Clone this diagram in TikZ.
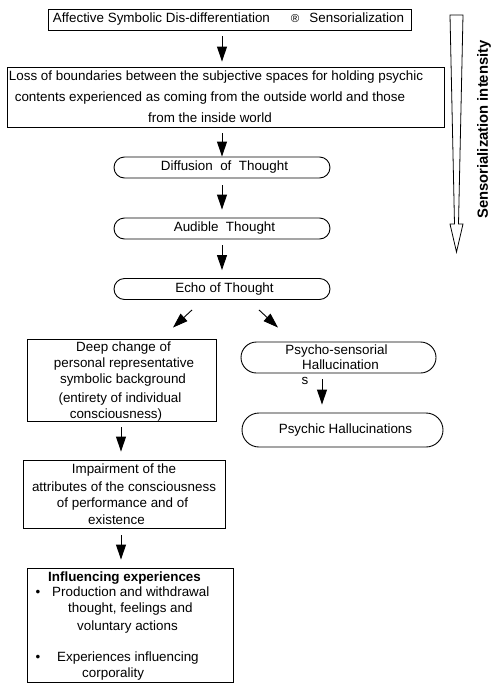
\documentclass[tikz,border=0pt]{standalone}
\usepackage{fontspec}
\setmainfont{Liberation Sans}
\usetikzlibrary{arrows.meta,shapes.misc}
\begin{document}
\begin{tikzpicture}[x=1pt,y=-1pt,
  box/.style={draw, line width=0.9pt, inner sep=0pt},
  rbox/.style={draw, rounded rectangle, line width=0.9pt, inner sep=0pt, align=center, font=\fontsize{13.4}{15}\selectfont},
  txt/.style={inner sep=0pt, align=center, font=\fontsize{13.4}{16}\selectfont},
  ltxt/.style={inner sep=0pt, anchor=base west, font=\fontsize{13.4}{16}\selectfont},
  arr/.style={line width=0.9pt, -{Triangle[length=15pt,width=10pt]}}]
\useasboundingbox (0,0) rectangle (500,683);

% top box
\node[box, minimum width=363pt, minimum height=21pt] (top) at (229.5,19.5) {};
\node[txt] (toptext) at (228.5,19.5) {Affective Symbolic Dis-differentiation\hspace{21pt}{\fontsize{11.5}{12}\selectfont ®}\hspace{10pt}Sensorialization};

% loss box
\node[box, minimum width=437pt, minimum height=60pt] (loss) at (225.5,97) {};
\node[txt, font=\fontsize{13.4}{21}\selectfont] (losstext) at (210,97) {\hspace*{12pt}Loss of boundaries between the subjective spaces for holding psychic\\contents experienced as coming from the outside world and those\\from the inside world};

% rounded chain
\node[rbox, minimum width=216pt, minimum height=21pt] (diff) at (222,167.5) {\hspace*{5pt}Diffusion\ \ of\ \ Thought};
\node[rbox, minimum width=216pt, minimum height=21pt] (aud) at (222,228.5) {\hspace*{5pt}Audible\ \ Thought};
\node[rbox, minimum width=216pt, minimum height=21pt] (echo) at (222,289) {\hspace*{5pt}Echo of Thought};

% deep box
\node[box, minimum width=189pt, minimum height=82pt] (deep) at (121.5,380) {};
\node[txt] (deeptext) at (122,381.5) {\hspace*{3pt}Deep change of\\\hspace*{4pt}personal representative\\\hspace*{2pt}symbolic background\\[3pt]\hspace*{-4pt}(entirety of individual\\\hspace*{-12pt}consciousness)};

% psycho boxes
\node[rbox, minimum width=195pt, minimum height=31pt] (psycho) at (338.5,357.5) {\hspace*{-4pt}Psycho-sensorial\\\hspace*{4pt}Hallucination};
\node[txt] (s) at (305,381) {s};
\node[rbox, minimum width=201pt, minimum height=34pt] (psychic) at (342.5,430) {\hspace*{6pt}Psychic Hallucinations};

% impairment
\node[box, minimum width=202pt, minimum height=68pt] (impair) at (124.5,494) {};
\node[txt, font=\fontsize{13.4}{16.5}\selectfont] (impairtext) at (124,494) {Impairment of the\\[1.5pt]attributes of the consciousness\\\hspace*{-3pt}of performance and of\\\hspace*{-15pt}existence};

% influencing
\node[box, minimum width=206pt, minimum height=114pt] (infl) at (130,625) {};
\node[ltxt, font=\bfseries\fontsize{13.4}{16}\selectfont] (i0) at (48,581.5) {Influencing experiences};
\node[ltxt, anchor=base] (b1) at (38,596.5) {•};
\node[ltxt] (i1) at (52,596.5) {Production and withdrawal};
\node[ltxt] (i2) at (68,612.5) {thought, feelings and};
\node[ltxt] (i3) at (77,630.5) {voluntary actions};
\node[ltxt, anchor=base] (b2) at (38,661.5) {•};
\node[ltxt] (i4) at (57,661.5) {Experiences influencing};
\node[ltxt] (i5) at (82,677.5) {corporality};

% arrows
\draw[arr] ([xshift=-7.5pt,yshift=-6pt]top.south) -- ([xshift=-3.5pt,yshift=5pt]loss.north);
\draw[arr] ([xshift=-3.5pt,yshift=-6pt]loss.south) -- (diff.north);
\draw[arr] ([yshift=-7pt]diff.south) -- ([yshift=8pt]aud.north);
\draw[arr] ([yshift=-6pt]aud.south) -- ([yshift=8pt]echo.north);
\draw[arr] ([xshift=-30pt,yshift=-10pt]echo.south) -- ([xshift=51.5pt,yshift=11pt]deep.north);
\draw[arr] ([xshift=37pt,yshift=-10pt]echo.south) -- ([xshift=-60.5pt,yshift=14pt]psycho.north);
\draw[arr] ([xshift=-16.5pt,yshift=-6pt]psycho.south) -- ([xshift=-20.5pt,yshift=8pt]psychic.north);
\draw[arr] ([xshift=-0.5pt,yshift=-6pt]deep.south) -- ([xshift=-3.5pt,yshift=8pt]impair.north);
\draw[arr] ([xshift=-3.5pt,yshift=-7pt]impair.south) -- ([xshift=-9pt,yshift=8pt]infl.north);

% sensorialization intensity arrow
\draw[line width=0.8pt, line join=miter] (450,15) -- (463,15) -- (458.5,224) -- (463,224) -- (456.5,252) -- (450,224) -- (454.5,224) -- cycle;
\node[rotate=90, inner sep=0pt, font=\bfseries\fontsize{14.8}{16}\selectfont] (intens) at (484,129.5) {Sensorialization intensity};
\end{tikzpicture}
\end{document}
